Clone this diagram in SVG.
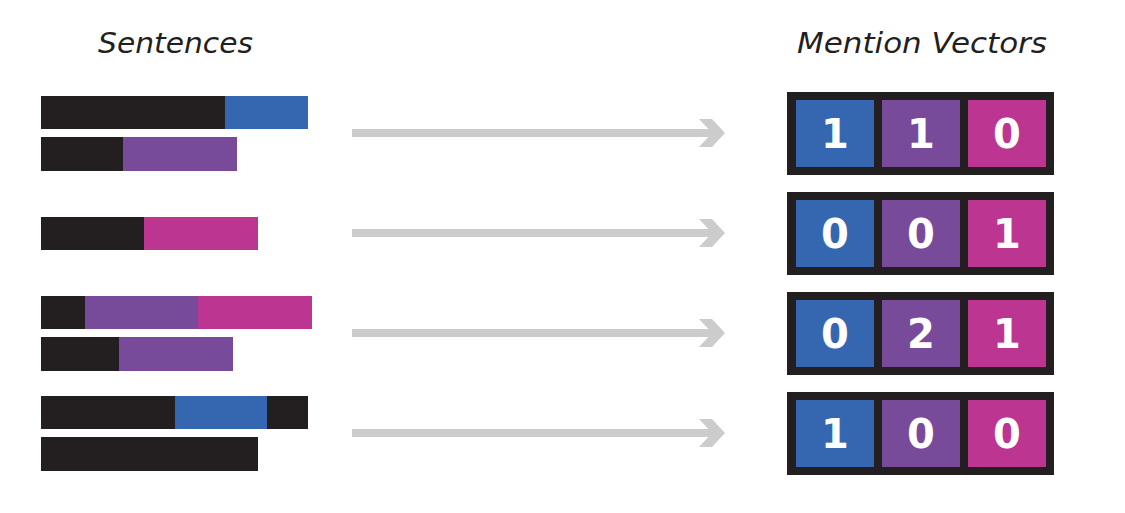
<svg xmlns="http://www.w3.org/2000/svg" width="1125" height="513" viewBox="0 0 1125 513">
<style>
.k{fill:#231f20}.b{fill:#3567b1}.p{fill:#774a9a}.m{fill:#bc3590}
.t{font-family:"DejaVu Sans",sans-serif;font-style:oblique;font-size:29px;fill:#231f20}
.d{font-family:"DejaVu Sans",sans-serif;font-weight:bold;font-size:40px;fill:#ffffff;text-anchor:middle}
.a{fill:#cccccc}
</style>
<defs>
<g id="arrow"><rect x="352" y="-4" width="360" height="8"/><polygon points="699,-14 712,-14 725,0 712,14 699,14 712,0"/></g>
<g id="vec"><rect class="k" x="787" y="0" width="267" height="83"/><rect class="b" x="796" y="8" width="78" height="67"/><rect class="p" x="882" y="8" width="78" height="67"/><rect class="m" x="968" y="8" width="78" height="67"/></g>
</defs>
<text class="t" x="98" y="53" textLength="155" lengthAdjust="spacingAndGlyphs">Sentences</text>
<text class="t" x="797" y="53" textLength="250" lengthAdjust="spacingAndGlyphs">Mention Vectors</text>
<g id="sentences1">
<rect class="k" x="41" y="96" width="184" height="33"/><rect class="b" x="225" y="96" width="83" height="33"/>
<rect class="k" x="41" y="137" width="82" height="34"/><rect class="p" x="123" y="137" width="114" height="34"/>
</g>
<g id="sentences2">
<rect class="k" x="41" y="217" width="103" height="33"/><rect class="m" x="144" y="217" width="114" height="33"/>
</g>
<g id="sentences3">
<rect class="k" x="41" y="296" width="44" height="33"/><rect class="p" x="85" y="296" width="113" height="33"/><rect class="m" x="198" y="296" width="114" height="33"/>
<rect class="k" x="41" y="337" width="78" height="34"/><rect class="p" x="119" y="337" width="114" height="34"/>
</g>
<g id="sentences4">
<rect class="k" x="41" y="396" width="134" height="33"/><rect class="b" x="175" y="396" width="92" height="33"/><rect class="k" x="267" y="396" width="41" height="33"/>
<rect class="k" x="41" y="437" width="217" height="34"/>
</g>
<g id="connectors" class="a">
<use href="#arrow" transform="translate(0,133)"/>
<use href="#arrow" transform="translate(0,233)"/>
<use href="#arrow" transform="translate(0,333)"/>
<use href="#arrow" transform="translate(0,433)"/>
</g>
<g id="vector1"><use href="#vec" transform="translate(0,92)"/><text class="d" x="835" y="148">1</text><text class="d" x="921" y="148">1</text><text class="d" x="1007" y="148">0</text></g>
<g id="vector2"><use href="#vec" transform="translate(0,192)"/><text class="d" x="835" y="248">0</text><text class="d" x="921" y="248">0</text><text class="d" x="1007" y="248">1</text></g>
<g id="vector3"><use href="#vec" transform="translate(0,292)"/><text class="d" x="835" y="348">0</text><text class="d" x="921" y="348">2</text><text class="d" x="1007" y="348">1</text></g>
<g id="vector4"><use href="#vec" transform="translate(0,392)"/><text class="d" x="835" y="448">1</text><text class="d" x="921" y="448">0</text><text class="d" x="1007" y="448">0</text></g>
</svg>
